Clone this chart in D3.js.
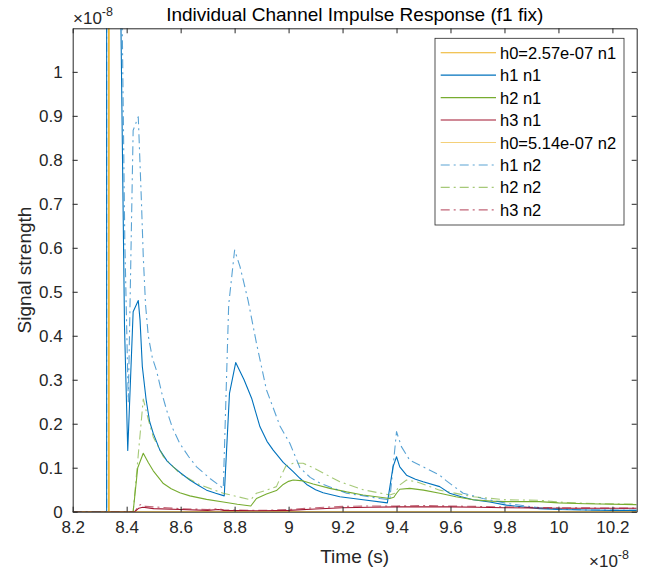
<!DOCTYPE html>
<html><head><meta charset="utf-8">
<script src="https://cdn.jsdelivr.net/npm/d3@7"></script>
<style>
html,body{margin:0;padding:0;background:#fff;}
svg{display:block;font-family:"Liberation Sans",Arial,Helvetica,sans-serif;}
</style></head>
<body><svg id="c" width="649" height="571"></svg>
<script>
// values in units of 1e-8 (time in 1e-8 s, signal in 1e-8)
const xTicks = [8.2,8.4,8.6,8.8,9.0,9.2,9.4,9.6,9.8,10.0,10.2];
const xTickLabels = ["8.2","8.4","8.6","8.8","9","9.2","9.4","9.6","9.8","10","10.2"];
const yTicks = [0,0.1,0.2,0.3,0.4,0.5,0.6,0.7,0.8,0.9,1.0];
const yTickLabels = ["0","0.1","0.2","0.3","0.4","0.5","0.6","0.7","0.8","0.9","1"];
const xDomain = [8.2, 10.29];
const yDomain = [0, 1.099];
const exponentLabel = "-8";

const seriesNames = ["h0=2.57e-07 n1","h1 n1","h2 n1","h3 n1","h0=5.14e-07 n2","h1 n2","h2 n2","h3 n2"];

const h0n1 = [[8.2,0],[8.3335,0],[8.334,25.7],[8.3345,0],[10.29,0]];
const h1n1 = [[8.2,0],[8.3258,0],[8.3262,30],[8.375,1.3],[8.392,0.42],[8.404,0.139],[8.424,0.4545],[8.443,0.48],
  [8.4496,0.435],[8.458,0.33],[8.472,0.255],[8.485,0.205],[8.4985,0.178],[8.523,0.14],[8.55,0.115],[8.5726,0.102],
  [8.60,0.088],[8.634,0.072],[8.665,0.06],[8.696,0.049],[8.73,0.042],[8.7615,0.036],[8.781,0.269],[8.804,0.339],
  [8.835,0.30],[8.863,0.258],[8.894,0.193],[8.92,0.16],[8.943,0.140],[8.98,0.112],[9.017,0.091],[9.042,0.076],
  [9.067,0.062],[9.10,0.050],[9.128,0.043],[9.19,0.034],[9.276,0.027],[9.366,0.020],[9.387,0.102],[9.40,0.125],
  [9.412,0.102],[9.437,0.083],[9.47,0.074],[9.4985,0.068],[9.56,0.057],[9.597,0.042],[9.64,0.034],[9.684,0.027],
  [9.745,0.022],[9.807,0.015],[9.88,0.010],[9.93,0.007],[10.0,0.005],[10.1,0.004],[10.2,0.003],[10.29,0.003]];
const h2n1 = [[8.2,0],[8.424,0],[8.441,0.10],[8.4615,0.133],[8.48,0.112],[8.4985,0.093],[8.536,0.064],[8.565,0.052],
  [8.597,0.043],[8.634,0.036],[8.696,0.028],[8.758,0.022],[8.81,0.017],[8.86,0.013],[8.881,0.030],[8.918,0.040],
  [8.955,0.048],[8.98,0.062],[9.0,0.069],[9.017,0.072],[9.054,0.070],[9.091,0.063],[9.153,0.053],[9.215,0.045],
  [9.276,0.038],[9.375,0.030],[9.39,0.033],[9.40,0.042],[9.412,0.051],[9.449,0.053],[9.50,0.049],[9.56,0.042],
  [9.62,0.034],[9.684,0.027],[9.75,0.024],[9.807,0.023],[9.93,0.023],[10.0,0.020],[10.1,0.018],[10.29,0.016]];
const h3n1 = [[8.2,0],[8.43,0],[8.445,0.008],[8.46,0.010],[8.5,0.007],[8.6,0.005],[8.7,0.003],[8.74,0.005],
  [8.76,0.003],[8.9,0.002],[9.0,0.003],[9.1,0.006],[9.2,0.009],[9.3,0.010],[9.4,0.011],[9.5,0.011],[9.6,0.011],
  [9.7,0.010],[9.8,0.009],[10.0,0.008],[10.29,0.008]];
const h0n2 = [[8.2,0],[8.3335,0],[8.334,51.4],[8.3345,0],[10.29,0]];
const h1n2 = [[8.2,0],[8.3258,0],[8.3262,50],[8.376,1.5],[8.393,0.62],[8.406,0.25],[8.424,0.867],[8.443,0.898],
  [8.455,0.70],[8.4615,0.58],[8.47,0.47],[8.48,0.40],[8.495,0.35],[8.511,0.32],[8.53,0.27],[8.548,0.231],
  [8.57,0.19],[8.597,0.155],[8.63,0.125],[8.659,0.102],[8.71,0.075],[8.758,0.053],[8.778,0.47],[8.80,0.595],
  [8.82,0.557],[8.85,0.48],[8.881,0.383],[8.918,0.277],[8.968,0.195],[9.005,0.155],[9.042,0.100],[9.08,0.078],
  [9.116,0.065],[9.215,0.042],[9.338,0.030],[9.375,0.027],[9.39,0.12],[9.40,0.182],[9.418,0.148],[9.449,0.117],
  [9.4985,0.102],[9.56,0.083],[9.585,0.070],[9.647,0.042],[9.72,0.030],[9.807,0.019],[9.88,0.013],[9.93,0.009],
  [10.0,0.006],[10.1,0.004],[10.29,0.003]];
const h2n2 = [[8.2,0],[8.424,0],[8.4615,0.256],[8.48,0.21],[8.4985,0.170],[8.536,0.125],[8.597,0.087],[8.671,0.061],
  [8.758,0.042],[8.86,0.027],[8.881,0.042],[8.918,0.049],[8.955,0.057],[8.975,0.085],[8.99,0.104],[9.017,0.110],
  [9.054,0.110],[9.091,0.100],[9.128,0.088],[9.19,0.068],[9.276,0.050],[9.375,0.038],[9.395,0.042],[9.41,0.060],
  [9.437,0.072],[9.474,0.068],[9.56,0.049],[9.684,0.034],[9.807,0.027],[9.93,0.026],[10.0,0.022],[10.1,0.019],[10.29,0.017]];
const h3n2 = [[8.2,0],[8.43,0],[8.445,0.014],[8.455,0.017],[8.47,0.012],[8.5,0.011],[8.55,0.009],[8.6,0.007],
  [8.7,0.005],[8.74,0.007],[8.76,0.004],[8.9,0.003],[9.0,0.005],[9.1,0.009],[9.2,0.012],[9.3,0.013],[9.4,0.013],
  [9.5,0.014],[9.6,0.013],[9.7,0.012],[9.8,0.011],[10.0,0.009],[10.29,0.008]];

const seriesData = [h0n1,h1n1,h2n1,h3n1,h0n2,h1n2,h2n2,h3n2];
const baseColors = ["#EDB120","#0072BD","#77AC30","#A2142F","#EDB120","#0072BD","#77AC30","#A2142F"];
const seriesOpacity = [1,1,1,1,0.6,0.65,0.65,0.65];
const seriesDash = [null,null,null,null,null,"9,4,2,4","9,4,2,4","9,4,2,4"];

const W=649,H=571;
const m = {left:72.7, top:28.3, right:636.7, bottom:511.7};
const axisColor="#262626";
const svg = d3.select("#c");
const x = d3.scaleLinear().domain(xDomain).range([m.left,m.right]);
const y = d3.scaleLinear().domain(yDomain).range([m.bottom,m.top]);

svg.append("defs").append("clipPath").attr("id","clip").append("rect")
  .attr("x",m.left).attr("y",m.top).attr("width",m.right-m.left).attr("height",m.bottom-m.top);

const line = d3.line().x(d=>x(d[0])).y(d=>y(d[1]));
const gl = svg.append("g").attr("clip-path","url(#clip)");
seriesData.forEach((s,i)=>{
  gl.append("path").datum(s).attr("d",line).attr("fill","none")
    .attr("stroke",baseColors[i]).attr("stroke-opacity",seriesOpacity[i])
    .attr("stroke-width",1.1).attr("stroke-linejoin","round")
    .attr("stroke-dasharray",seriesDash[i]);
});

// axes
const fs=17;
const xb = svg.append("g").attr("transform",`translate(0,${m.bottom})`)
  .call(d3.axisBottom(x).tickValues(xTicks).tickSizeInner(-5).tickSizeOuter(0).tickPadding(9)
    .tickFormat((d,i)=>xTickLabels[i]));
const xt = svg.append("g").attr("transform",`translate(0,${m.top})`)
  .call(d3.axisTop(x).tickValues(xTicks).tickSizeInner(-5).tickSizeOuter(0).tickFormat(""));
const yl = svg.append("g").attr("transform",`translate(${m.left},0)`)
  .call(d3.axisLeft(y).tickValues(yTicks).tickSizeInner(-5).tickSizeOuter(0).tickPadding(10)
    .tickFormat((d,i)=>yTickLabels[i]));
const yr = svg.append("g").attr("transform",`translate(${m.right},0)`)
  .call(d3.axisRight(y).tickValues(yTicks).tickSizeInner(-5).tickSizeOuter(0).tickFormat(""));
[xb,xt,yl,yr].forEach(g=>{
  g.selectAll("path").attr("stroke",axisColor).attr("stroke-width",1);
  g.selectAll("line").attr("stroke",axisColor).attr("stroke-width",1);
  g.selectAll("text").attr("fill",axisColor).style("font-size",fs+"px").style("font-family","'Liberation Sans',Arial,sans-serif");
});

// title & labels
svg.append("text").attr("x",(m.left+m.right)/2).attr("y",21).attr("text-anchor","middle")
  .attr("fill","#000").style("font-size","19px").text("Individual Channel Impulse Response (f1 fix)");
svg.append("text").attr("x",(m.left+m.right)/2).attr("y",563).attr("text-anchor","middle")
  .attr("fill",axisColor).style("font-size","19px").text("Time (s)");
svg.append("text").attr("transform",`translate(31,${(m.top+m.bottom)/2}) rotate(-90)`).attr("text-anchor","middle")
  .attr("fill",axisColor).style("font-size","19px").text("Signal strength");

function expLabel(xp,yp){
  const t = svg.append("text").attr("x",xp).attr("y",yp).attr("fill",axisColor).style("font-size","17px");
  t.append("tspan").text("×10");
  t.append("tspan").attr("dy",-8).style("font-size","12.5px").text(exponentLabel);
}
expLabel(73,23.5);
expLabel(589,567);

// legend
const lg = svg.append("g");
lg.append("rect").attr("x",435).attr("y",38.3).attr("width",189).attr("height",186.7)
  .attr("fill","#fff").attr("stroke",axisColor).attr("stroke-width",0.8);
seriesNames.forEach((n,i)=>{
  const cy = 52.7 + i*22.45;
  lg.append("line").attr("x1",440.7).attr("x2",496).attr("y1",cy).attr("y2",cy)
    .attr("stroke",baseColors[i]).attr("stroke-opacity",seriesOpacity[i]).attr("stroke-width",1.1)
    .attr("stroke-dasharray",seriesDash[i]);
  lg.append("text").attr("x",500).attr("y",cy+6).attr("fill","#000").style("font-size","16.5px").text(n);
});
</script></body></html>
